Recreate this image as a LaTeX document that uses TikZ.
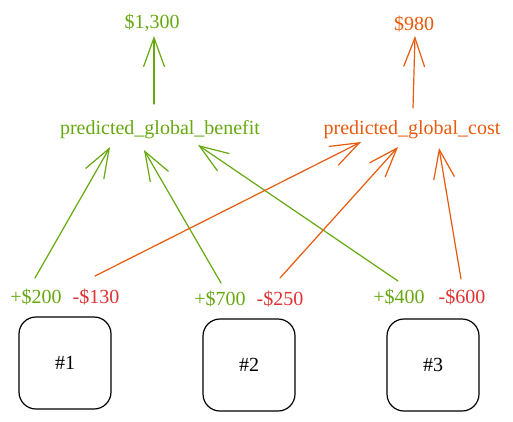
\documentclass[tikz,border=0pt]{standalone}
\usepackage{fontspec}
\setmainfont{Liberation Serif}
\usetikzlibrary{arrows.meta}
\definecolor{xgreen}{HTML}{66A80F}
\definecolor{xorange}{HTML}{E8590C}
\definecolor{xred}{HTML}{E03131}
\tikzset{
  txt/.style={inner sep=0pt, anchor=base, font=\fontsize{20}{24}\selectfont},
  gtxt/.style={txt, text=xgreen},
  otxt/.style={txt, text=xorange},
  rtxt/.style={txt, text=xred},
  card/.style={draw=black, line width=1.2pt, rounded corners=17pt, minimum width=92pt, minimum height=92pt, inner sep=0pt, font=\fontsize{20}{24}\selectfont},
  arr/.style={line width=1.2pt, line cap=round, line join=round, -{Straight Barb[length=29pt,width=21pt,line width=1.2pt]}},
  garr/.style={arr, draw=xgreen},
  oarr/.style={arr, draw=xorange},
}
\begin{document}
\begin{tikzpicture}[x=1pt,y=-1pt]
\useasboundingbox (0,0) rectangle (513,421);
% totals
\node[gtxt] (tb) at (152,28) {\$1,300};
\node[otxt] (tc) at (414,30) {\$980};
% labels
\node[gtxt] (b) at (160,134) {predicted\_global\_benefit};
\node[otxt] (c) at (412,134) {predicted\_global\_cost};
% values
\node[gtxt] (p1) at (36,303) {+\$200};
\node[rtxt] (m1) at (96,303) {-\$130};
\node[gtxt] (p2) at (220,305) {+\$700};
\node[rtxt] (m2) at (280,305) {-\$250};
\node[gtxt] (p3) at (399,303) {+\$400};
\node[rtxt] (m3) at (462,303) {-\$600};
% boxes
\node[card] (k1) at (65,363) {\#1};
\node[card] (k2) at (249,365) {\#2};
\node[card] (k3) at (433,365) {\#3};
% vertical arrows
\draw[garr] ([shift={(-6,-30)}]b.base) -- ([shift={(2,8)}]tb.base);
\draw[oarr] ([shift={(1,-26)}]c.base) -- ([shift={(1,6)}]tc.base);
% green arrows
\draw[garr] ([shift={(-1,-25)}]p1.base) -- ([shift={(-50,13)}]b.base);
\draw[garr] ([shift={(1,-22)}]p2.base) -- ([shift={(-16,16)}]b.base);
\draw[garr] ([shift={(-1,-22)}]p3.base) -- ([shift={(38,11)}]b.base);
% orange arrows
\draw[oarr] ([shift={(-1,-27)}]m1.base) -- ([shift={(-51,8)}]c.base);
\draw[oarr] ([shift={(0,-27)}]m2.base) -- ([shift={(-14,13)}]c.base);
\draw[oarr] ([shift={(-1,-24)}]m3.base) -- ([shift={(27,14)}]c.base);
\end{tikzpicture}
\end{document}
